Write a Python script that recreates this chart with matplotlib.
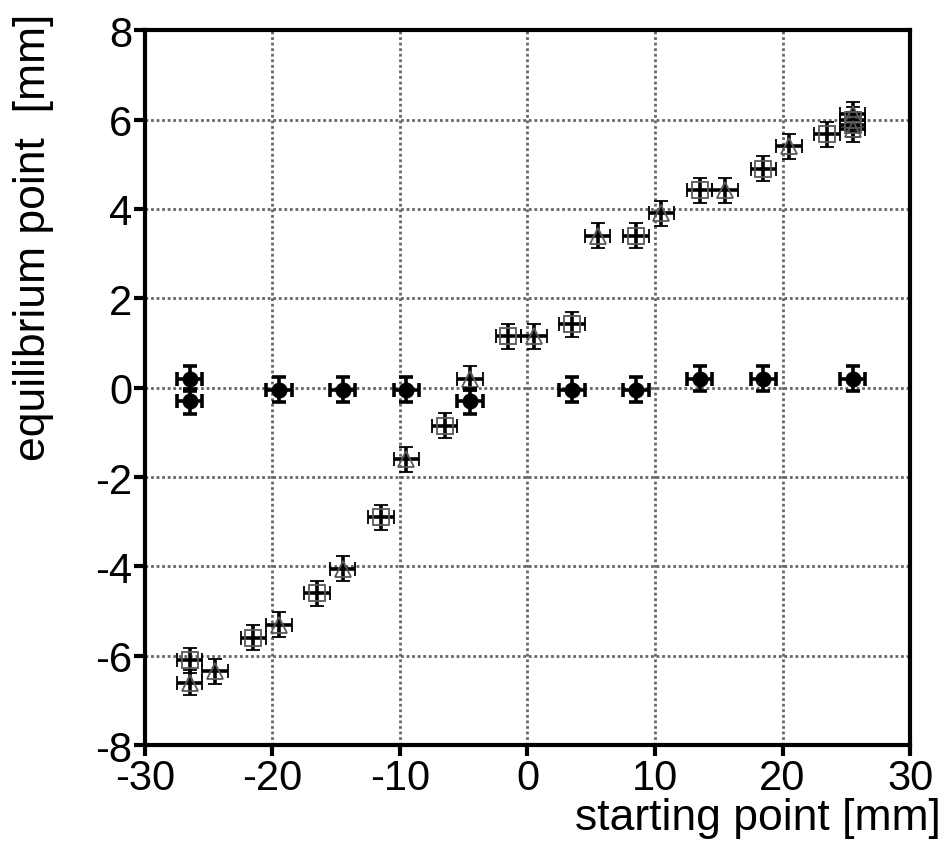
import numpy as np
import matplotlib
matplotlib.use('Agg')
import matplotlib.pyplot as plt

plt.rcParams['font.family'] = ['Liberation Sans', 'DejaVu Sans']
plt.rcParams['axes.unicode_minus'] = False

# filled circles
circ_x = [-26.5, -26.5, -19.5, -14.5, -9.5, -4.5, 3.5, 8.5, 13.5, 18.5, 25.5]
circ_y = [0.2, -0.3, -0.05, -0.05, -0.05, -0.3, -0.05, -0.05, 0.2, 0.2, 0.2]

# open squares
sq_x = [-26.5, -21.5, -16.5, -11.5, -6.5, -1.5, 3.5, 8.5, 13.5, 18.5, 23.5, 25.5, 25.5]
sq_y = [-6.1, -5.6, -4.6, -2.9, -0.85, 1.15, 1.42, 3.4, 4.42, 4.9, 5.67, 6.0, 5.88]

# open triangles
tri_x = [-26.5, -24.5, -19.5, -14.5, -9.5, -4.5, 0.5, 5.5, 10.5, 15.5, 20.5, 25.5, 25.5]
tri_y = [-6.6, -6.35, -5.3, -4.05, -1.6, 0.2, 1.15, 3.4, 3.9, 4.42, 5.4, 6.12, 5.78]

XERR = 1.0
YERR = 0.28

fig = plt.figure(figsize=(9.47, 8.45), dpi=100)
ax = fig.add_axes([0.153, 0.117, 0.808, 0.846])

eb = dict(xerr=XERR, yerr=YERR, ecolor='black', elinewidth=2.6,
          capsize=5, capthick=2.6, linestyle='none')
ax.errorbar(sq_x, sq_y, marker='s', ms=11, mfc='none', mec='0.35', mew=1.3, zorder=3, **eb)
ax.errorbar(tri_x, tri_y, marker='^', ms=12, mfc='none', mec='0.35', mew=1.3, zorder=3, **eb)
ax.errorbar(circ_x, circ_y, marker='o', ms=10.5, mfc='black', mec='black', zorder=4, **eb)

ax.set_xlim(-30, 30)
ax.set_ylim(-8, 8)
ax.set_xticks(np.arange(-30, 31, 10))
ax.set_yticks(np.arange(-8, 9, 2))
ax.grid(True, color='0.4', linestyle=(0, (1, 1)), linewidth=2)
ax.set_axisbelow(True)

for s in ax.spines.values():
    s.set_linewidth(3)
ax.tick_params(direction='out', length=8, width=3, labelsize=30, pad=1)

ax.set_xlabel('starting point [mm]', fontsize=32)
ax.xaxis.set_label_coords(1.04, -0.073, transform=ax.transAxes)
ax.xaxis.label.set_horizontalalignment('right')
ax.set_ylabel('equilibrium point  [mm]', fontsize=32)
ax.yaxis.set_label_coords(-0.145, 1.025, transform=ax.transAxes)
ax.yaxis.label.set_horizontalalignment('right')
ax.yaxis.label.set_verticalalignment('center')

fig.savefig('out.png', dpi=100)
